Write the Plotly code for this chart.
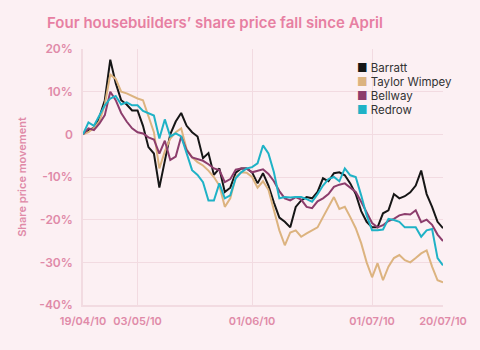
import plotly.graph_objects as go
import pandas as pd

# Trading days 19/04/2010 - 20/07/2010
dates = [d.strftime("%d/%m/%y") for d in pd.bdate_range("2010-04-19", "2010-07-20")]

barratt = [0, 1, 1.5, 4, 8, 17.5, 12, 8, 7, 5.6, 5.6, 2, -3, -4.5, -12.5,
           -6, 0, 3, 5, 2, 0.5, -0.5, -5.6, -4.4, -9.5, -8, -13.5, -12.5, -9, -8,
           -8, -8.9, -11.5, -9.1, -12, -16, -19.5, -20.5, -21.8, -17, -15.5, -14.7,
           -15, -13.5, -10.3, -11, -9.1, -8.9, -9.6, -11.5, -14, -18, -20.5, -21.8,
           -21.8, -18.5, -17.8, -14, -15, -14.5, -13.6, -12, -8.5, -14, -17, -20.5, -22]
taylor_wimpey = [0, 0.5, 1.5, 3, 7, 14, 13, 10, 9.6, 9, 8.4, 8, 4.5, 0.5, -8,
                 -4, -1, 0.5, 1.4, -3.5, -5.4, -6.5, -7.3, -8.5, -10, -12, -17, -15, -10, -8.9,
                 -9, -10, -12.5, -11, -13, -17.5, -22.5, -26, -23, -22.5, -24, -23.2,
                 -22.5, -21.8, -19.4, -17, -14.7, -17.5, -17, -19.4, -22, -25.5, -30, -33.5,
                 -30.2, -34.2, -31, -29, -28.3, -29.5, -30, -29, -27.9, -27.2, -31, -34.2, -34.7]
bellway = [0, 1.4, 1, 2.5, 4.5, 10, 8, 5, 3, 1.4, 0.5, 0.2, -0.7, -1.2, -4.5,
           -1.5, -6, -5.2, -0.5, -3.7, -5.4, -5.8, -6.2, -7, -8, -8.4, -11.2, -10.5, -8.3, -8,
           -8, -8.9, -8.5, -8.2, -9.3, -11, -13.3, -15, -15.5, -14.7, -15.3, -17,
           -17.3, -15.7, -15, -14, -12.3, -11.8, -11.5, -12.5, -13.5, -15.8, -18.2, -20.8,
           -21.8, -21.3, -20.3, -19.8, -19, -18.7, -18.8, -17.8, -20.6, -20, -21.2, -23.5, -25]
redrow = [0, 2.8, 2, 4.5, 6.8, 8.4, 9, 7, 7.5, 6.8, 6.8, 5.5, 4.9, 4.4, -1,
          3.5, -0.5, 0.2, -0.5, -4.5, -8.4, -9.5, -11.2, -15.5, -15.5, -11.5, -15, -14.3, -10.3, -8.9,
          -8, -7.7, -6.8, -2.6, -4.5, -8.9, -15, -14.7, -14.8, -14.7, -14.7, -15.2,
          -15.8, -14, -12, -10.5, -10, -11, -8, -9.6, -10, -14.3, -19, -22.5,
          -22.5, -22.3, -19.8, -20.1, -20.5, -21.8, -21.8, -21.8, -24, -22.5, -22.2, -29, -30.7]

series = [("Barratt", barratt, "#161616"),
          ("Taylor Wimpey", taylor_wimpey, "#dcb37f"),
          ("Bellway", bellway, "#8c3d6c"),
          ("Redrow", redrow, "#1fb2c6")]

x_ticks = ["19/04/10", "03/05/10", "01/06/10", "01/07/10", "20/07/10"]
y_ticks = [20, 10, 0, -10, -20, -30, -40]
y_labels = ["20%", "10%", "0", "-10%", "-20%", "-30%", "-40%"]

BG = "#fcf0f3"
PINK = "#e08aa8"
GRID = "#f2dbe1"
FONT = "Inter"

fig = go.Figure()
for name, vals, col in series:
    fig.add_trace(go.Scatter(x=dates, y=vals, mode="lines", name=name,
                             line=dict(color=col, width=2), showlegend=False))

# legend as text
leg_y0 = 67
for i, (name, vals, col) in enumerate(series):
    fig.add_annotation(xref="paper", yref="paper", x=(355 - 83) / 360,
                       y=(305 - (leg_y0 + i * 14)) / 256,
                       xanchor="left", yanchor="middle", showarrow=False,
                       height=13, valign="middle",
                       text=f"<span style='color:{col}'>■</span> {name}",
                       font=dict(family=FONT, size=11.5, color="#333333"))

fig.update_layout(
    width=480, height=350,
    margin=dict(l=83, r=37, t=49, b=45),
    paper_bgcolor=BG, plot_bgcolor=BG,
    title=dict(text="Four housebuilders’ share price fall since April",
               x=47 / 480, xref="container", xanchor="left",
               y=1 - 23 / 350, yref="container", yanchor="middle",
               font=dict(family=FONT, size=15, color="#e77fa2", weight=600)),
    xaxis=dict(type="category", range=[0, len(dates) - 1],
               tickvals=x_ticks, ticktext=x_ticks,
               showgrid=True, gridcolor=GRID, gridwidth=1,
               showline=True, linecolor=GRID, linewidth=1.5,
               ticks="", ticklabelstandoff=5,
               tickfont=dict(family=FONT, size=11, color=PINK, weight=600),
               zeroline=False, fixedrange=True),
    yaxis=dict(range=[-40, 20], tickvals=y_ticks, ticktext=y_labels,
               showgrid=True, gridcolor=GRID, gridwidth=1,
               showline=True, linecolor=GRID, linewidth=1.5,
               zeroline=False, ticks="", ticklabelstandoff=6,
               tickfont=dict(family=FONT, size=12, color=PINK, weight=600),
               title=dict(text="Share price movement", standoff=10,
                          font=dict(family=FONT, size=11, color=PINK, weight=600))),
)

fig.write_html("out.html")
